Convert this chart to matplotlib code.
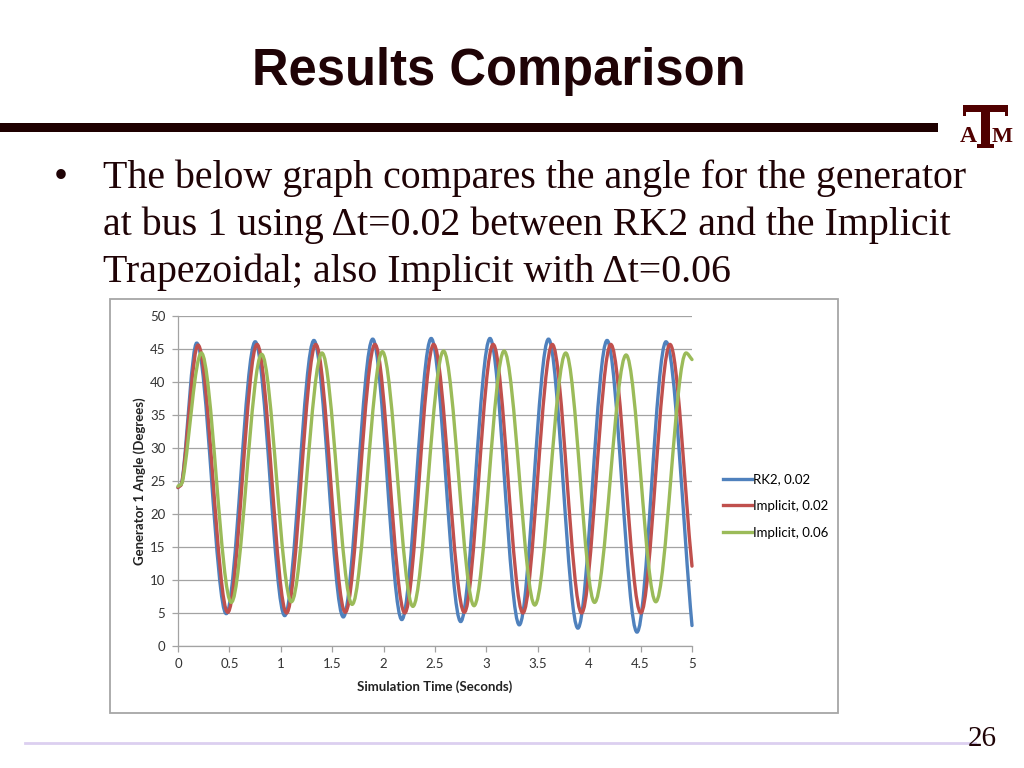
import matplotlib
matplotlib.use('Agg')
import matplotlib.pyplot as plt
from matplotlib.path import Path
from matplotlib.patches import PathPatch, Rectangle
from matplotlib.lines import Line2D

# angle readings at start, every peak / trough and the end (seconds, degrees)
rk2_t = [0, 0.045, 0.182, 0.469, 0.751, 1.038, 1.322, 1.608, 1.894, 2.177,
         2.463, 2.750, 3.035, 3.320, 3.604, 3.890, 4.174, 4.465, 4.747, 5.0]
rk2_v = [24.0, 25.6, 45.9, 4.9, 46.1, 4.6, 46.3, 4.4, 46.5, 4.0,
         46.6, 3.7, 46.6, 3.2, 46.5, 2.7, 46.3, 2.1, 46.1, 3.1]

imp02_t = [0, 0.045, 0.195, 0.484, 0.769, 1.056, 1.340, 1.627, 1.916, 2.206,
           2.487, 2.785, 3.066, 3.355, 3.641, 3.926, 4.210, 4.502, 4.786, 5.0]
imp02_v = [24.0, 25.4, 45.6, 5.1, 45.7, 5.0, 45.7, 5.1, 45.7, 5.0,
           45.7, 5.1, 45.7, 5.0, 45.7, 5.0, 45.7, 5.0, 45.7, 12.1]

imp06_t = [0, 0.05, 0.227, 0.518, 0.814, 1.103, 1.401, 1.694, 1.988, 2.285,
           2.583, 2.880, 3.172, 3.471, 3.772, 4.052, 4.359, 4.648, 4.942, 5.0]
imp06_v = [24.2, 25.4, 44.4, 6.6, 44.2, 6.7, 44.4, 6.3, 44.6, 6.0,
           44.7, 6.1, 44.7, 6.2, 44.4, 6.6, 44.1, 6.7, 44.4, 43.4]

series_names = ['RK2, 0.02', 'Implicit, 0.02', 'Implicit, 0.06']
series_colors = ['#4f81bd', '#c0504d', '#9bbb59']

x_ticks = [0, 0.5, 1, 1.5, 2, 2.5, 3, 3.5, 4, 4.5, 5]
x_tick_labels = ['0', '0.5', '1', '1.5', '2', '2.5', '3', '3.5', '4', '4.5', '5']
y_ticks = [0, 5, 10, 15, 20, 25, 30, 35, 40, 45, 50]

W, H = 1024, 768
dark = '#1f0306'
grey = '#a3a3a3'


def px(x, y):
    # slide pixel -> figure fraction
    return x / W, 1 - y / H


def box(x0, y0, x1, y1, **kw):
    # rectangle given by slide pixel corners (top-left, bottom-right)
    return Rectangle(px(x0, y1), (x1 - x0) / W, (y1 - y0) / H,
                     transform=fig.transFigure, **kw)


def smooth_path(t, v):
    # excel style smoothed line: cubic bezier through the points,
    # flat tangent at peaks and troughs
    n = len(t)
    m = []
    for i in range(n):
        if i == 0:
            m.append((v[1] - v[0]) / (t[1] - t[0]))
        elif i == n - 1:
            m.append((v[i] - v[i - 1]) / (t[i] - t[i - 1]))
        elif (v[i] - v[i - 1]) * (v[i + 1] - v[i]) <= 0:
            m.append(0.0)
        else:
            m.append((v[i + 1] - v[i - 1]) / (t[i + 1] - t[i - 1]))
    verts = [(t[0], v[0])]
    codes = [Path.MOVETO]
    for i in range(n - 1):
        h = t[i + 1] - t[i]
        verts += [(t[i] + h / 3, v[i] + m[i] * h / 3),
                  (t[i + 1] - h / 3, v[i + 1] - m[i + 1] * h / 3),
                  (t[i + 1], v[i + 1])]
        codes += [Path.CURVE4] * 3
    return Path(verts, codes)


fig = plt.figure(figsize=(W / 100, H / 100), dpi=100)

# title and maroon rule
fig.text(*px(499, 85), 'Results Comparison', ha='center', va='baseline',
         fontsize=36.5, fontweight='bold', family='Liberation Sans', color=dark)
fig.patches.append(box(0, 123.5, 938, 132, facecolor='#1e0000', edgecolor='none'))

# A T M logo: block T with A and M either side
maroon = '#500000'
fig.patches.append(box(963, 105, 1008, 112, facecolor=maroon, edgecolor='none'))
fig.patches.append(box(981, 105, 990, 146, facecolor=maroon, edgecolor='none'))
fig.patches.append(box(977, 144, 994, 148, facecolor=maroon, edgecolor='none'))
fig.patches.append(box(963, 105, 966, 116, facecolor=maroon, edgecolor='none'))
fig.patches.append(box(1005, 105, 1008, 116, facecolor=maroon, edgecolor='none'))
fig.text(*px(968, 142), 'A', ha='center', va='baseline', fontsize=17,
         fontweight='bold', family='Liberation Serif', color=maroon)
fig.text(*px(1002, 142), 'M', ha='center', va='baseline', fontsize=16,
         fontweight='bold', family='Liberation Serif', color=maroon)

# bullet text
body = dict(fontsize=28.7, family='Liberation Serif', color=dark, va='baseline')
fig.text(*px(54, 188), '\u2022', **body)
lines = ['The below graph compares the angle for the generator',
         'at bus 1 using \u0394t=0.02 between RK2 and the Implicit',
         'Trapezoidal; also Implicit with \u0394t=0.06']
for k, s in enumerate(lines):
    fig.text(*px(103, 188 + 47 * k), s, **body)

# chart frame, behind the axes
fig.patches.append(box(110, 299, 838, 713, facecolor='white', edgecolor='#a6a6a6',
                       linewidth=1.3, zorder=-1))

ax = fig.add_axes([178 / W, 1 - 646 / H, 514 / W, 330 / H])
ax.set_xlim(0, 5)
ax.set_ylim(0, 50)
ax.set_facecolor('none')

all_t = [rk2_t, imp02_t, imp06_t]
all_v = [rk2_v, imp02_v, imp06_v]
for tt, vv, c in zip(all_t, all_v, series_colors):
    ax.add_patch(PathPatch(smooth_path(tt, vv), facecolor='none', edgecolor=c,
                           linewidth=2.4, capstyle='round', joinstyle='round',
                           clip_on=False, zorder=3))

lab_font = dict(family='Lato', fontsize=9.5, color='#333333')
ax.set_xticks(x_ticks)
ax.set_xticklabels(x_tick_labels, **lab_font)
ax.set_yticks(y_ticks)
ax.set_yticklabels([str(y) for y in y_ticks], **lab_font)
ax.tick_params(axis='both', direction='out', length=4, width=0.9, color=grey, pad=5)
ax.yaxis.grid(True, color=grey, linewidth=0.9)
ax.set_axisbelow(True)
for side in ['top', 'right']:
    ax.spines[side].set_visible(False)
for side in ['left', 'bottom']:
    ax.spines[side].set_color(grey)
    ax.spines[side].set_linewidth(0.9)

ax.set_xlabel('Simulation Time (Seconds)', family='Lato', fontsize=9.5,
              fontweight='bold', color='#222222', labelpad=7)
ax.set_ylabel('Generator 1 Angle (Degrees)', family='Lato', fontsize=9.5,
              fontweight='bold', color='#222222', labelpad=3)

handles = [Line2D([], [], color=c, linewidth=2.4) for c in series_colors]
ax.legend(handles, series_names, loc='center left', bbox_to_anchor=px(716, 506),
          bbox_transform=fig.transFigure, frameon=False, handlelength=2.2,
          handletextpad=0.12, labelspacing=1.12, borderpad=0,
          prop={'family': 'Lato', 'size': 9.5})

# footer rule and page number
fig.lines.append(Line2D([25 / W, 975 / W], [1 - 743 / H] * 2, transform=fig.transFigure,
                        color='#dccff0', linewidth=2))
fig.text(*px(997, 746), '26', ha='right', va='baseline', fontsize=21,
         family='Liberation Serif', color=dark)

fig.savefig('out.png', dpi=100)
